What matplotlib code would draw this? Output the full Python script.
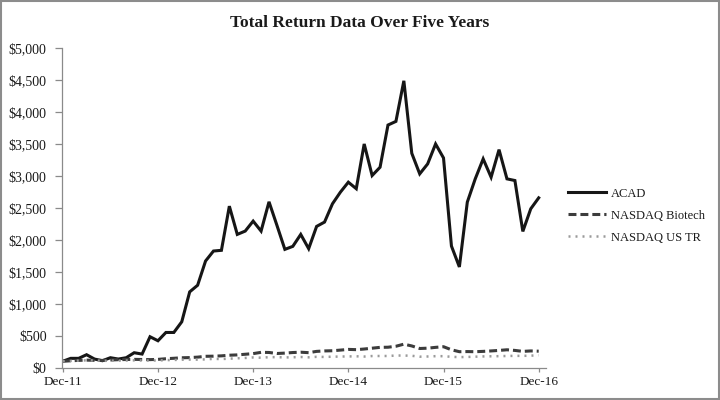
import matplotlib
matplotlib.use('Agg')
import matplotlib.pyplot as plt
from matplotlib.ticker import FuncFormatter
from matplotlib.patches import Rectangle

# ── DATA (monthly, Dec-11 .. Dec-16) ──────────────────────
ACAD = [100, 146, 146, 203, 135, 109, 156, 135, 156, 234, 213, 484,
        421, 551, 551, 718, 1186, 1290, 1669, 1825, 1836, 2527, 2085, 2137,
        2293, 2137, 2595, 2226, 1851, 1898, 2085, 1862, 2210, 2278, 2564, 2746,
        2902, 2800, 3500, 3006, 3136, 3796, 3853, 4488, 3354, 3032, 3188, 3500,
        3281, 1903, 1576, 2590, 2954, 3266, 2980, 3411, 2954, 2928, 2132, 2486,
        2657]
BIOTECH = [100, 108, 114, 118, 115, 113, 120, 125, 128, 130, 128, 126,
           130, 140, 147, 155, 158, 165, 178, 180, 185, 195, 200, 210,
           220, 240, 238, 222, 228, 237, 242, 235, 255, 262, 265, 275,
           286, 282, 292, 305, 318, 320, 335, 368, 340, 300, 305, 318,
           328, 280, 250, 252, 250, 255, 262, 270, 280, 270, 255, 262,
           258]
US_TR = [100, 106, 110, 115, 114, 106, 110, 110, 112, 115, 112, 112,
         113, 118, 121, 125, 127, 126, 130, 138, 135, 141, 147, 152,
         160, 156, 164, 165, 160, 163, 167, 162, 170, 168, 172, 174,
         176, 178, 174, 182, 183, 183, 190, 190, 186, 172, 175, 180,
         180, 170, 165, 168, 172, 176, 178, 180, 183, 185, 185, 188,
         195]
TICK_LABELS = ['Dec-11', 'Dec-12', 'Dec-13', 'Dec-14', 'Dec-15', 'Dec-16']
SERIES_NAMES = ['ACAD', 'NASDAQ Biotech', 'NASDAQ US TR']

plt.rcParams['font.family'] = ['Liberation Serif', 'DejaVu Serif']

fig = plt.figure(figsize=(7.2, 4.0), dpi=100, facecolor='white')
ax = fig.add_axes([0.0861, 0.0808, 0.672, 0.799])

months = list(range(len(ACAD)))
ax.plot(months, ACAD, color='#161616', lw=2.2, solid_joinstyle='miter',
        label=SERIES_NAMES[0])
ax.plot(months, BIOTECH, color='#3c3c3c', lw=2.2, ls=(0, (2.6, 1.3)),
        label=SERIES_NAMES[1])
ax.plot(months, US_TR, color='#9a9a9a', lw=1.8, ls=(0, (0.8, 2.0)),
        label=SERIES_NAMES[2])

ax.set_xlim(-0.1, 60.9)
ax.set_ylim(0, 5000)
ax.set_yticks(range(0, 5001, 500))
ax.yaxis.set_major_formatter(FuncFormatter(lambda v, p: f'${v:,.0f}'))
ax.set_xticks(range(0, 61, 12))
ax.set_xticklabels(TICK_LABELS)

for s in ['top', 'right']:
    ax.spines[s].set_visible(False)
for s in ['left', 'bottom']:
    ax.spines[s].set_color('#8a8a8a')
    ax.spines[s].set_linewidth(0.9)
ax.tick_params(axis='both', colors='#8a8a8a', labelcolor='#1a1a1a',
               width=0.9, direction='out')
ax.tick_params(axis='y', labelsize=10, length=5, pad=6)
ax.tick_params(axis='x', labelsize=9.5, length=3, pad=3)

fig.text(0.5, 0.942, 'Total Return Data Over Five Years', ha='center',
         va='center', fontsize=12.5, fontweight='bold', color='#1a1a1a')

leg = fig.legend(loc='center left', bbox_to_anchor=(0.789, 0.461),
                 frameon=False, fontsize=9, handlelength=3.0,
                 handletextpad=0.45, labelspacing=0.8,
                 borderpad=0, borderaxespad=0)
for t in leg.get_texts():
    t.set_color('#1a1a1a')

# thin grey frame round the picture
fig.patches.append(Rectangle((0.002, 0.003), 0.996, 0.994,
                             transform=fig.transFigure, fill=False,
                             edgecolor='#8c8c8c', lw=1.5))

plt.savefig('out.png', dpi=100, facecolor='white')
plt.close()
